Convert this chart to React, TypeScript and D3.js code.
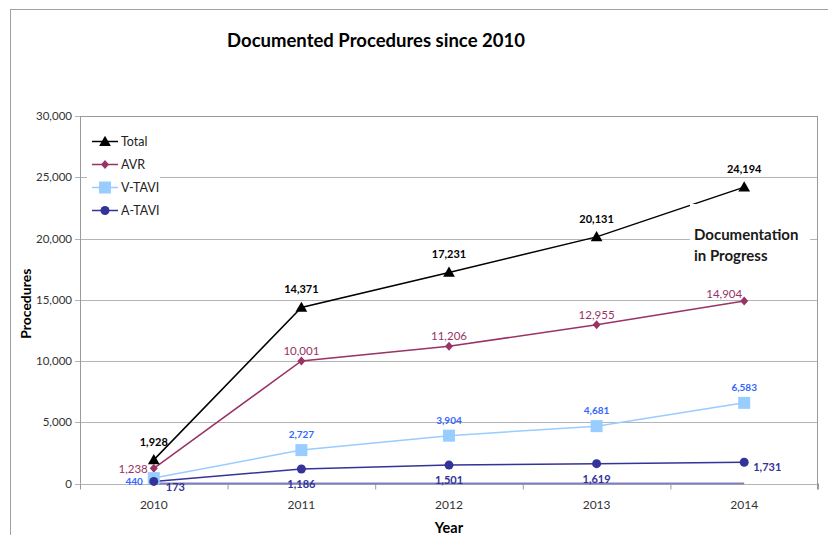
import React from "react";
import * as d3 from "d3";

const years = ["2010", "2011", "2012", "2013", "2014"];
const totalValues = [1928, 14371, 17231, 20131, 24194];
const avrValues = [1238, 10001, 11206, 12955, 14904];
const vtaviValues = [440, 2727, 3904, 4681, 6583];
const ataviValues = [173, 1186, 1501, 1619, 1731];
const baselineValues = [0, 0, 0, 0, 0];
const yTicks = [0, 5000, 10000, 15000, 20000, 25000, 30000];

const FONT = "Lato, 'Open Sans', sans-serif";

type Series = {
  name: string;
  values: number[];
  line: string;
  label: string;
  marker: "triangle" | "diamond" | "square" | "circle";
  bold: boolean;
  size: number;
};

const series: Series[] = [
  { name: "Total", values: totalValues, line: "#000000", label: "#000000", marker: "triangle", bold: true, size: 11 },
  { name: "AVR", values: avrValues, line: "#993366", label: "#993366", marker: "diamond", bold: false, size: 11.5 },
  { name: "V-TAVI", values: vtaviValues, line: "#99ccff", label: "#3366ff", marker: "square", bold: true, size: 10 },
  { name: "A-TAVI", values: ataviValues, line: "#333399", label: "#333399", marker: "circle", bold: true, size: 11 },
];

const fmt = d3.format(",");

function Marker({ type, x, y, color }: { type: string; x: number; y: number; color: string }) {
  if (type === "triangle") {
    const p = d3.symbol(d3.symbolTriangle, 60)();
    return <path d={p || ""} transform={`translate(${x},${y + 1})`} fill={color} />;
  }
  if (type === "diamond") {
    return <path d={`M${x},${y - 4.5}L${x + 4},${y}L${x},${y + 4.5}L${x - 4},${y}Z`} fill={color} />;
  }
  if (type === "square") {
    return <rect x={x - 6} y={y - 6} width={12} height={12} fill={color} />;
  }
  return <circle cx={x} cy={y} r={4.5} fill={color} />;
}

// where each data label sits relative to its point
function labelPos(si: number, i: number, px: number, py: number) {
  const last = i === years.length - 1;
  if (si === 0) return { x: px, y: py - 14, anchor: "middle" };
  if (si === 1) {
    if (i === 0) return { x: px - 6, y: py + 5, anchor: "end" };
    if (last) return { x: px - 2, y: py - 3, anchor: "end" };
    return { x: px, y: py - 6, anchor: "middle" };
  }
  if (si === 2) {
    if (i === 0) return { x: px - 11, y: py + 7, anchor: "end" };
    return { x: px, y: py - 12, anchor: "middle" };
  }
  if (i === 0) return { x: px + 12, y: py + 10, anchor: "start" };
  if (last) return { x: px + 9, y: py + 9, anchor: "start" };
  return { x: px, y: Math.max(py + 15, 478) + 4, anchor: "middle" };
}

export default function App() {
  const left = 80;
  const right = 818;
  const top = 116;
  const bottom = 483.5;

  const x = d3.scaleBand<string>().domain(years).range([left, right]);
  const cx = (yr: string) => (x(yr) || 0) + x.bandwidth() / 2;
  const y = d3.scaleLinear().domain([0, 30000]).range([bottom, top]);

  const line = d3
    .line<number>()
    .x((_, i) => cx(years[i]))
    .y((d) => y(d));

  const boundaries = years.map((yr) => x(yr) || 0).concat([right]);

  return (
    <div style={{ position: "absolute", left: 0, top: 0 }}>
      <svg width={828} height={535} style={{ display: "block", fontFamily: FONT }}>
        <rect x={0} y={0} width={828} height={535} fill="#fff" />
        {/* outer chart frame */}
        <rect x={10.5} y={9.5} width={830} height={540} fill="none" stroke="#a0a0a0" />

        <text x={376} y={47} textAnchor="middle" fontSize={18.5} fontWeight="bold" fill="#000">
          Documented Procedures since 2010
        </text>

        {/* gridlines */}
        {yTicks.map((t) => (
          <line key={t} x1={left - 5} x2={right} y1={Math.round(y(t)) + 0.5} y2={Math.round(y(t)) + 0.5} stroke="#b4b4b4" />
        ))}
        {/* plot border */}
        <line x1={left + 0.5} x2={left + 0.5} y1={top} y2={bottom} stroke="#9a9a9a" />
        <line x1={right - 0.5} x2={right - 0.5} y1={top} y2={bottom + 6} stroke="#9a9a9a" />
        <line x1={left} x2={right} y1={Math.round(y(30000)) + 0.5} y2={Math.round(y(30000)) + 0.5} stroke="#9a9a9a" />
        {boundaries.map((b, i) => (
          <line key={i} x1={b + 0.5} x2={b + 0.5} y1={bottom} y2={bottom + 6} stroke="#9a9a9a" />
        ))}

        {/* y tick labels */}
        {yTicks.map((t) => (
          <text key={t} x={72} y={y(t) + 4} textAnchor="end" fontSize={11.5} fill="#333">
            {fmt(t)}
          </text>
        ))}
        {/* x tick labels */}
        {years.map((yr) => (
          <text key={yr} x={cx(yr)} y={509} textAnchor="middle" fontSize={12} fill="#333">
            {yr}
          </text>
        ))}

        <text x={(left + right) / 2} y={533} textAnchor="middle" fontSize={14.5} fontWeight="bold" fill="#000">
          Year
        </text>
        <text
          transform={`translate(31,${(top + bottom) / 2 + 4}) rotate(-90)`}
          textAnchor="middle"
          fontSize={14}
          fontWeight="bold"
          fill="#000"
        >
          Procedures
        </text>

        {/* baseline series */}
        <path d={line(baselineValues) || ""} fill="none" stroke="#8080c0" strokeWidth={2} />

        {/* series lines */}
        {series.map((s) => (
          <path key={s.name} d={line(s.values) || ""} fill="none" stroke={s.line} strokeWidth={1.5} />
        ))}

        {/* annotation box */}
        <rect x={690} y={204} width={120} height={66} fill="#fff" />
        <text x={694} y={240} fontSize={15} fontWeight="bold" fill="#1a1a1a">
          Documentation
        </text>
        <text x={694} y={261} fontSize={15} fontWeight="bold" fill="#1a1a1a">
          in Progress
        </text>

        {/* markers */}
        {series.map((s) =>
          s.values.map((v, i) => <Marker key={s.name + i} type={s.marker} x={cx(years[i])} y={y(v)} color={s.line} />)
        )}

        {/* data labels */}
        {series.map((s, si) =>
          s.values.map((v, i) => {
            const p = labelPos(si, i, cx(years[i]), y(v));
            return (
              <text
                key={s.name + "l" + i}
                x={p.x}
                y={p.y}
                textAnchor={p.anchor as any}
                fontSize={s.size}
                fontWeight={s.bold ? "bold" : "normal"}
                fill={s.label}
              >
                {fmt(v)}
              </text>
            );
          })
        )}

        {/* legend */}
        <rect x={87} y={128} width={73} height={94} fill="#fff" />
        {series.map((s, i) => {
          const ly = 141.5 + i * 23;
          return (
            <g key={s.name}>
              <line x1={92} x2={118} y1={ly} y2={ly} stroke={s.line} strokeWidth={1.5} />
              <Marker type={s.marker} x={105} y={ly} color={s.line} />
              <text x={121} y={ly + 4.5} fontSize={12.5} fill="#222">
                {s.name}
              </text>
            </g>
          );
        })}
      </svg>
    </div>
  );
}
